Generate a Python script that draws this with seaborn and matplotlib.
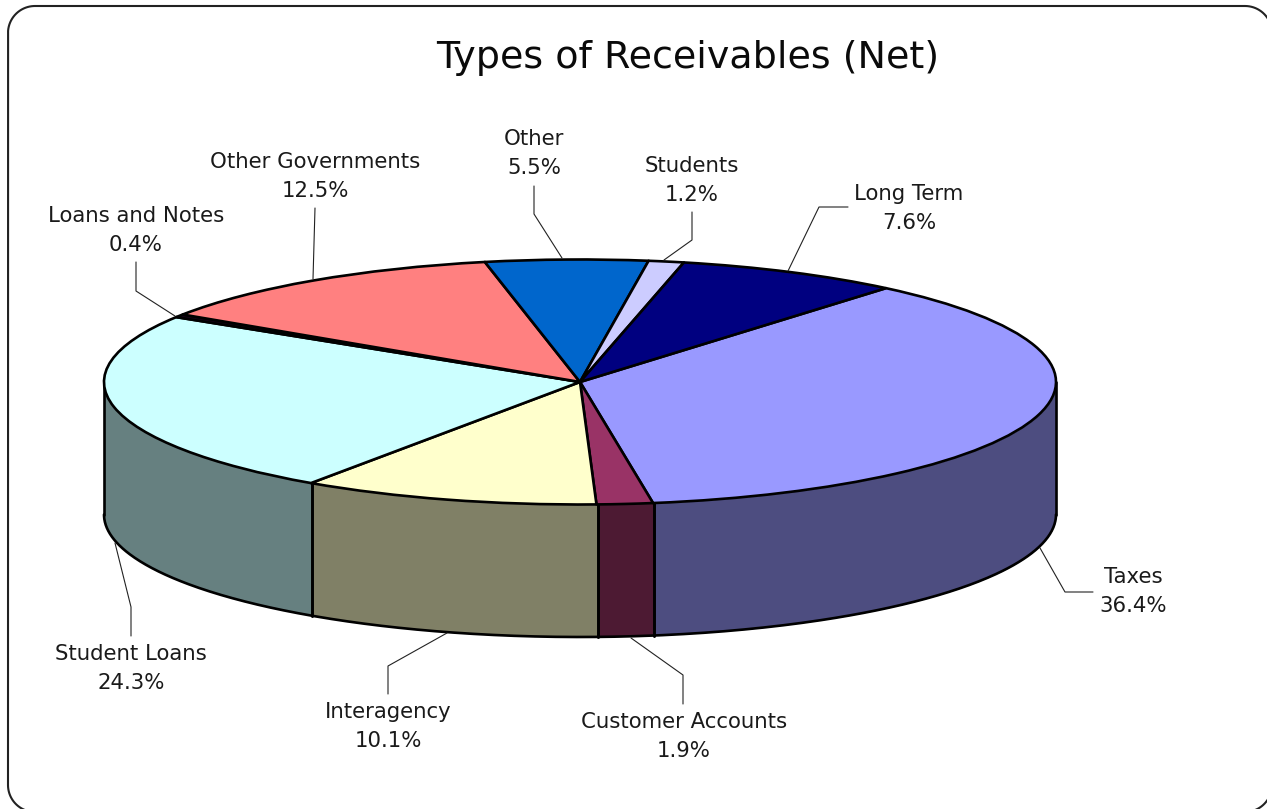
import numpy as np
import matplotlib
matplotlib.use("Agg")
import matplotlib.pyplot as plt
import seaborn as sns

# Receivable categories in clockwise order, starting from Taxes
categories = ["Taxes", "Customer Accounts", "Interagency", "Student Loans",
              "Loans and Notes", "Other Governments", "Other", "Students", "Long Term"]
shares = [36.4, 1.9, 10.1, 24.3, 0.4, 12.5, 5.5, 1.2, 7.6]
slice_colors = ["#9999FF", "#993366", "#FFFFCC", "#CCFFFF", "#1A001A",
                "#FF8080", "#0066CC", "#CCCCFF", "#000080"]

# Label centres and leader-line routes, in pixels from the top left
label_centres = [(1133, 591), (684, 736), (388, 726), (131, 668), (136, 230),
                 (315, 176), (534, 153), (692, 180), (909, 208)]
leaders = [
    [(1093, 592), (1065, 592), (1040, 548)],
    [(683, 704), (683, 675), (631, 638)],
    [(388, 694), (388, 666), (447, 633)],
    [(131, 636), (131, 607), (115, 543)],
    [(136, 262), (136, 291), (175, 316)],
    [(315, 208), (313, 279)],
    [(534, 186), (534, 214), (562, 258)],
    [(692, 212), (692, 240), (664, 260)],
    [(848, 207), (819, 207), (788, 271)],
]

WIDTH, HEIGHT = 1267, 809
CX, CY, RX, RY, DEPTH = 580, 382, 476, 122.5, 132.5
START_ANGLE = 50
OUTLINE = 1.9

sns.set_theme(style="white", font="DejaVu Sans")
palette = sns.color_palette(slice_colors)
wall_palette = [tuple(0.5 * c for c in col) for col in palette]

fig = plt.figure(figsize=(WIDTH / 100, HEIGHT / 100), dpi=100, facecolor="white")

# Overlay in pixel units for the frame, title, labels and leaders
ax_px = fig.add_axes([0, 0, 1, 1], zorder=2)
ax_px.set_xlim(0, WIDTH)
ax_px.set_ylim(HEIGHT, 0)
ax_px.axis("off")
ax_px.patch.set_alpha(0)

# Pie axes: one data unit is a semi-axis of the ellipse, so a unit circle flattens
ax = fig.add_axes([0, 0, 1, 1], zorder=1)
ax.pie(shares, colors=palette, startangle=START_ANGLE, counterclock=False, radius=1,
       wedgeprops=dict(edgecolor="black", linewidth=OUTLINE, joinstyle="round"))
ax.set_aspect("auto")
ax.set_xlim(-CX / RX, (WIDTH - CX) / RX)
ax.set_ylim((CY - HEIGHT) / RY, CY / RY)
ax.axis("off")

# Side wall of each slice that faces the viewer (lower half of the ellipse)
depth_units = DEPTH / RY
edges = START_ANGLE - np.cumsum([0] + shares) * 3.6
for i, wall in enumerate(wall_palette):
    a, b = min(edges[i], 0), max(edges[i + 1], -180)
    if a <= b:
        continue
    t = np.radians(np.linspace(a, b, 160))
    xs, upper = np.cos(t), np.sin(t)
    lower = upper - depth_units
    ax.fill_between(xs, lower, upper, color=wall, linewidth=0, zorder=0.5)
    ax.plot(xs, lower, color="black", lw=OUTLINE, zorder=0.6, solid_capstyle="round")
    for k in (0, -1):
        ax.plot([xs[k], xs[k]], [upper[k], lower[k]], color="black", lw=OUTLINE,
                zorder=0.6, solid_capstyle="round")

# Rounded outer frame, running slightly past the lower right of the canvas
left, right, top, bottom, r = 8, 1272, 6, 812, 27
corners = [(right - r, top + r, 90, 0), (right - r, bottom - r, 0, -90),
           (left + r, bottom - r, -90, -180), (left + r, top + r, 180, 90)]
frame_x, frame_y = [], []
for ccx, ccy, a0, a1 in corners:
    t = np.radians(np.linspace(a0, a1, 40))
    frame_x.extend(ccx + r * np.cos(t))
    frame_y.extend(ccy - r * np.sin(t))
ax_px.plot(frame_x + frame_x[:1], frame_y + frame_y[:1], color="#222222", lw=1.5)

ax_px.text(688, 57.5, "Types of Receivables (Net)", ha="center", va="center",
           fontsize=27.4, color="#0a0a0a")

for name, share, (x, y), route in zip(categories, shares, label_centres, leaders):
    ax_px.text(x, y + 0.5, f"{name}\n{share:.1f}%", ha="center", va="center",
               fontsize=15.3, color="#1a1a1a", linespacing=1.55)
    px, py = zip(*route)
    ax_px.plot(px, py, color="#222222", lw=0.8)

fig.savefig("out.png", dpi=100, facecolor="white")
